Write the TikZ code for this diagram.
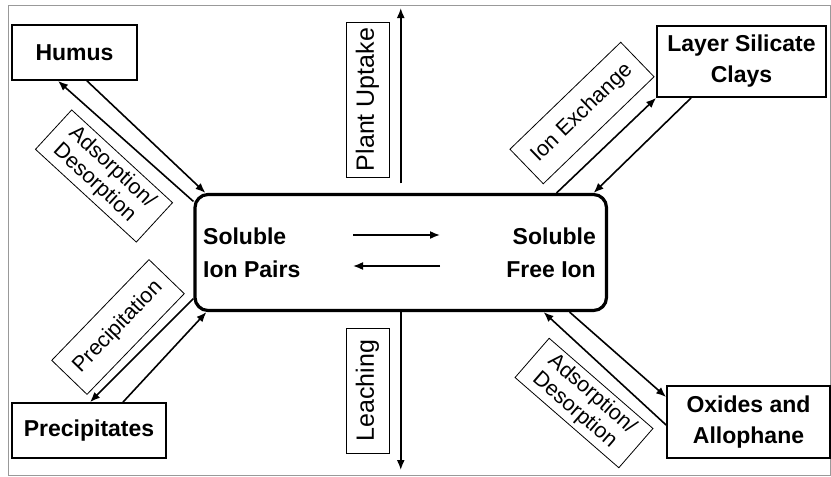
\documentclass[tikz,border=0pt]{standalone}
\usepackage{fontspec}
\setmainfont{Liberation Sans}
\usetikzlibrary{arrows.meta}
\begin{document}
\begin{tikzpicture}[x=1pt,y=-1pt,
	pool/.style={draw, line width=1.8pt, fill=white, inner sep=0pt, align=center, font=\fontsize{23}{31}\selectfont\bfseries},
	proc/.style={draw, line width=0.8pt, fill=white, inner sep=0pt, align=center, font=\fontsize{21.5}{23.5}\selectfont},
	flow/.style={line width=1.6pt, -{Latex[length=10pt,width=8pt]}}]
			\useasboundingbox (0,0) rectangle (831,477);
			\draw[gray!80, line width=0.8pt] (8,5) rectangle (830.5,475);
			% soluble pool in the middle
			\node[draw, line width=3.2pt, rounded corners=13pt, minimum width=411.5pt, minimum height=116pt] (sol) at (400.75,252.5) {};
			\node[inner sep=0pt, anchor=west, align=left, font=\fontsize{23}{33}\selectfont\bfseries] (pairs) at (203,252.5) {Soluble\\Ion Pairs};
			\node[inner sep=0pt, anchor=east, align=right, font=\fontsize{23}{33}\selectfont\bfseries] (free) at (596,252.5) {Soluble\\Free Ion};
			\coordinate (fwdA) at (353,235);
			\coordinate (fwdB) at (440,235);
			\coordinate (backA) at (440,266);
			\coordinate (backB) at (353,266);
			\draw[flow] (fwdA) -- (fwdB);
			\draw[flow] (backA) -- (backB);
			% solid phases
			\node[pool, minimum width=125pt, minimum height=55pt] (humus) at (74.5,52.5) {Humus};
			\node[pool, minimum width=169pt, minimum height=71pt] (clays) at (741.5,61.5) {Layer Silicate\\Clays};
			\node[pool, minimum width=154pt, minimum height=55pt] (precip) at (89,430.5) {Precipitates};
			\node[pool, minimum width=163pt, minimum height=72pt] (oxides) at (748.5,422) {Oxides and\\Allophane};
			% exchanges
			\draw[flow] ([yshift=-8.5pt]sol.north west) -- ([xshift=-16.5pt]humus.south);
			\draw[flow] ([xshift=12.5pt]humus.south) -- ([xshift=12pt]sol.north west);
			\draw[flow] ([xshift=-51.5pt]sol.north east) -- (clays.south west);
			\draw[flow] ([xshift=35pt]clays.south west) -- ([xshift=-14.5pt]sol.north east);
			\draw[flow] ([yshift=13.5pt]sol.south west) -- ([xshift=1pt]precip.north);
			\draw[flow] ([xshift=34pt]precip.north) -- ([xshift=13pt]sol.south west);
			\draw[flow] ([yshift=-3pt]oxides.west) -- ([xshift=-64.5pt]sol.south east);
			\draw[flow] ([xshift=-38.5pt]sol.south east) -- ([yshift=25pt]oxides.west);
			% losses
			\coordinate (sky) at (400.75,8);
			\coordinate (ground) at (400.75,470);
			\draw[flow] ([yshift=9.5pt]sol.north) -- (sky);
			\draw[flow] (sol.south) -- (ground);
			% process labels
			\node[proc, rotate=90, minimum width=155pt, minimum height=43pt, font=\fontsize{25}{27}\selectfont] (uptake) at (367.5,99.5) {Plant Uptake};
			\node[proc, rotate=90, minimum width=125pt, minimum height=43pt, font=\fontsize{25}{27}\selectfont] (leach) at (367.5,390.5) {Leaching};
			\node[proc, rotate=-42.6, minimum width=137pt, minimum height=53.5pt, align=left] (adsA) at (104,176) {Adsorption/\\Desorption};
			\node[proc, rotate=44, minimum width=154pt, minimum height=48pt] (exch) at (582,113) {Ion Exchange};
			\node[proc, rotate=46, minimum width=140pt, minimum height=49pt] (prec) at (118,327) {Precipitation};
			\node[proc, rotate=-41, minimum width=137.5pt, minimum height=52pt, align=left] (adsB) at (584,403) {Adsorption/\\Desorption};
\end{tikzpicture}
\end{document}
